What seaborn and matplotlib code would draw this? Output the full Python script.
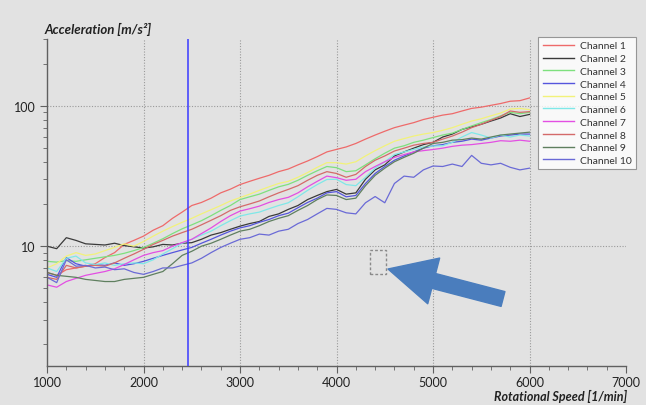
import matplotlib
matplotlib.use("Agg")
import matplotlib.pyplot as plt
import matplotlib.ticker as mticker
from matplotlib.patches import FancyArrowPatch, Rectangle, ArrowStyle
import seaborn as sns
import pandas as pd

# rotational speed in 1/min
speed = list(range(1000, 6001, 100))

ch1 = [6.5, 6.2, 6.8, 7.0, 7.2, 7.5, 8.3, 9.0, 10.3, 11.0, 11.8, 13.0, 14.0, 15.8, 17.5, 19.5, 20.5,
       22.0, 24.0, 25.5, 27.5, 29.0, 30.5, 32.0, 34.0, 35.5, 38.0, 40.5, 43.5, 47.0, 49.0, 51.0, 54.0,
       58.0, 62.0, 66.0, 70.0, 73.0, 76.0, 80.0, 83.0, 86.0, 88.0, 92.0, 96.0, 98.0, 101.0, 104.0,
       108.0, 109.0, 114.0]
ch2 = [10.0, 9.6, 11.5, 11.0, 10.4, 10.3, 10.2, 10.5, 10.1, 9.9, 9.7, 9.9, 10.3, 10.2, 10.5, 10.6, 11.2,
       12.0, 12.5, 13.2, 13.9, 14.5, 15.0, 16.3, 17.0, 18.3, 19.5, 21.5, 23.0, 24.5, 25.4, 23.5, 24.0,
       30.0, 35.0, 38.0, 44.0, 47.0, 50.0, 53.0, 55.0, 60.0, 63.0, 68.0, 71.0, 74.0, 78.0, 82.0, 88.0,
       84.0, 87.0]
ch3 = [7.8, 7.7, 7.9, 7.8, 8.0, 8.2, 8.4, 8.6, 8.9, 9.3, 9.8, 10.5, 11.3, 12.3, 13.3, 14.2, 15.2, 16.5,
       18.0, 19.5, 21.5, 22.5, 23.5, 25.0, 26.5, 27.6, 29.5, 32.0, 34.5, 37.0, 36.3, 34.0, 34.5, 38.0,
       42.0, 46.0, 50.0, 52.0, 55.0, 57.0, 59.5, 62.0, 64.0, 68.0, 72.0, 76.0, 80.0, 85.0, 90.0, 88.0,
       90.0]
ch4 = [6.3, 6.0, 8.3, 7.5, 7.2, 7.4, 7.3, 7.6, 7.3, 7.5, 7.8, 8.2, 8.6, 9.0, 9.4, 9.8, 10.5, 11.2, 12.0,
       12.8, 13.5, 14.0, 14.8, 15.5, 16.5, 17.2, 18.8, 20.5, 22.0, 24.0, 24.5, 22.5, 23.0, 28.0, 33.0,
       37.0, 41.0, 44.0, 47.0, 50.0, 52.0, 53.0, 55.0, 56.0, 58.0, 57.0, 59.0, 61.0, 62.0, 63.0, 63.0]
ch5 = [7.0, 7.5, 8.5, 9.0, 8.6, 8.8, 9.3, 9.8, 10.4, 10.0, 10.8, 11.8, 12.8, 13.8, 14.8, 15.8, 17.0,
       18.2, 19.5, 21.0, 22.2, 23.5, 25.0, 26.5, 28.0, 29.0, 31.0, 33.5, 36.5, 39.4, 39.4, 38.5, 40.0,
       44.0, 48.0, 52.0, 56.0, 58.5, 61.0, 63.0, 64.6, 67.0, 70.0, 74.0, 78.0, 81.0, 85.0, 89.0, 95.0,
       96.0, 94.0]
ch6 = [7.0, 6.6, 8.2, 8.5, 7.6, 7.4, 7.6, 7.3, 7.5, 7.6, 7.5, 8.0, 8.8, 9.6, 10.5, 11.2, 12.0, 12.8,
       14.0, 15.2, 16.4, 17.0, 17.5, 18.5, 19.5, 20.4, 22.5, 25.0, 27.5, 29.9, 30.0, 27.5, 27.0, 31.0,
       36.0, 40.0, 45.0, 47.0, 49.0, 51.0, 51.8, 52.0, 55.0, 60.0, 64.6, 62.0, 59.0, 62.0, 60.0, 62.0,
       61.0]
ch7 = [5.3, 5.1, 5.6, 5.9, 6.2, 6.4, 6.6, 6.9, 7.4, 8.0, 8.6, 9.0, 9.3, 10.0, 10.6, 11.2, 12.3, 13.5,
       15.0, 16.5, 17.8, 18.5, 19.3, 20.5, 21.5, 22.3, 24.0, 26.5, 29.0, 31.6, 30.8, 29.5, 30.0, 34.0,
       37.0, 40.0, 43.0, 45.0, 47.0, 48.0, 48.9, 50.0, 51.5, 52.5, 53.0, 54.0, 55.0, 56.5, 56.0, 57.0,
       56.0]
ch8 = [6.0, 5.8, 7.3, 7.0, 7.2, 7.3, 7.2, 7.6, 8.2, 8.8, 9.5, 10.3, 11.0, 11.8, 12.5, 13.2, 14.2, 15.3,
       16.5, 18.0, 19.1, 20.0, 21.0, 22.5, 24.0, 25.4, 27.0, 29.5, 32.0, 34.0, 33.0, 31.0, 32.5, 37.0,
       41.0, 44.0, 47.7, 50.0, 52.5, 54.0, 55.0, 58.0, 61.0, 65.0, 70.0, 74.0, 79.0, 84.0, 92.0, 90.0,
       91.0]
ch9 = [6.5, 6.2, 6.1, 6.0, 5.8, 5.7, 5.6, 5.6, 5.8, 5.9, 6.0, 6.3, 6.6, 7.5, 8.6, 9.2, 10.0, 10.5,
       11.2, 12.0, 12.8, 13.2, 14.0, 15.0, 15.8, 16.5, 18.0, 19.5, 21.5, 23.2, 23.0, 21.5, 22.0, 27.0,
       32.0, 36.0, 40.0, 43.0, 46.0, 50.0, 54.0, 55.0, 57.0, 57.5, 59.0, 58.0, 60.0, 62.0, 63.0, 64.0,
       65.0]
ch10 = [6.0, 5.5, 8.0, 7.2, 7.3, 7.0, 7.1, 6.8, 6.9, 6.5, 6.3, 6.6, 7.0, 7.0, 7.3, 7.6, 8.2, 9.0, 9.8,
        10.5, 11.2, 11.5, 12.2, 12.0, 12.8, 13.2, 14.5, 15.5, 17.0, 18.6, 18.3, 17.3, 17.0, 20.4, 22.6,
        20.4, 28.0, 31.6, 31.0, 35.0, 37.3, 37.0, 38.5, 37.0, 44.4, 39.0, 38.0, 39.0, 36.5, 35.0, 36.0]

channels = ["Channel 1", "Channel 2", "Channel 3", "Channel 4", "Channel 5",
            "Channel 6", "Channel 7", "Channel 8", "Channel 9", "Channel 10"]
series = [ch1, ch2, ch3, ch4, ch5, ch6, ch7, ch8, ch9, ch10]
colors = ["#ee6a6a", "#3a3a3a", "#7ee07e", "#5555dd", "#f2f27a",
          "#7fe8e8", "#e34fe3", "#d46a6a", "#5f7f5f", "#6a6ad6"]
cursor_speed = 2460

rows = []
for name, vals in zip(channels, series):
    for s, v in zip(speed, vals):
        rows.append({"speed": s, "accel": v, "channel": name})
df = pd.DataFrame(rows)

plt.rcParams['font.family'] = ['Lato', 'DejaVu Sans']
bg = "#e2e2e2"

fig = plt.figure(figsize=(6.46, 4.06), dpi=100, facecolor=bg)
ax = fig.add_axes([0.0728, 0.0961, 0.8963, 0.8054], facecolor=bg)

sns.lineplot(data=df, x="speed", y="accel", hue="channel", hue_order=channels,
             palette=dict(zip(channels, colors)), linewidth=0.9, ax=ax, legend=False)

ax.axvline(cursor_speed, color="#3a3aff", lw=1.1, zorder=5)

ax.set_yscale("log")
ax.set_xlim(1000, 7000)
ax.set_ylim(1.4, 300)
ax.xaxis.set_major_locator(mticker.MultipleLocator(1000))
ax.xaxis.set_minor_locator(mticker.MultipleLocator(200))
ax.yaxis.set_major_locator(mticker.LogLocator(base=10))
ax.yaxis.set_minor_locator(mticker.LogLocator(base=10, subs=range(2, 10)))
ax.yaxis.set_major_formatter(mticker.FuncFormatter(lambda v, p: f"{v:g}"))
ax.yaxis.set_minor_formatter(mticker.NullFormatter())
ax.set_xlabel("")
ax.set_ylabel("")

for s in ["top", "right"]:
    ax.spines[s].set_visible(False)
for s in ["left", "bottom"]:
    ax.spines[s].set_color("#606060")
    ax.spines[s].set_linewidth(1.0)
ax.tick_params(which="major", length=5, color="#606060", labelsize=9, labelcolor="#222222", pad=3)
ax.tick_params(axis="x", which="major", pad=2)
ax.tick_params(which="minor", length=3, color="#606060")

for xv in [2000, 3000, 4000, 5000, 6000]:
    ax.axvline(xv, color="#9a9a9a", lw=0.8, ls=(0, (1, 1.5)), zorder=0)
for yv in [10, 100]:
    ax.axhline(yv, color="#9a9a9a", lw=0.8, ls=(0, (1, 1.5)), zorder=0)

fig.text(45 / 646, 1 - 34 / 406, "Acceleration [m/s²]", fontsize=9.5,
         fontweight="bold", fontstyle="italic", color="#222222", va="baseline")
fig.text(627 / 646, 1 - 401 / 406, "Rotational Speed [1/min]", fontsize=9,
         fontweight="bold", fontstyle="italic", color="#222222", va="baseline", ha="right")

handles = [plt.Line2D([], [], color=c, lw=1.0) for c in colors]
leg = fig.legend(handles, channels, loc="upper right", bbox_to_anchor=(636 / 646, 1 - 38 / 406),
                 fontsize=7.5, frameon=True, fancybox=False, borderaxespad=0,
                 labelspacing=0.33, handlelength=3.0, handletextpad=0.6, borderpad=0.4)
leg.get_frame().set_facecolor("white")
leg.get_frame().set_edgecolor("#808080")
leg.get_frame().set_linewidth(0.8)
for t in leg.get_texts():
    t.set_color("#333333")

# selection marker and pointer arrow
rect = Rectangle((370 / 646, 1 - 275 / 406), 16 / 646, 24 / 406, transform=fig.transFigure,
                 fill=False, edgecolor="#8a8a8a", lw=1.0, ls=(0, (2, 1.5)))
fig.patches.append(rect)
arrow = FancyArrowPatch((503 / 646, 1 - 300 / 406), (388 / 646, 1 - 270 / 406),
                        transform=fig.transFigure, mutation_scale=1,
                        arrowstyle=ArrowStyle("simple", head_length=34, head_width=34, tail_width=11),
                        color="#4a7dbd", shrinkA=0, shrinkB=0)
fig.patches.append(arrow)

fig.savefig("out.png", dpi=100, facecolor=bg)
